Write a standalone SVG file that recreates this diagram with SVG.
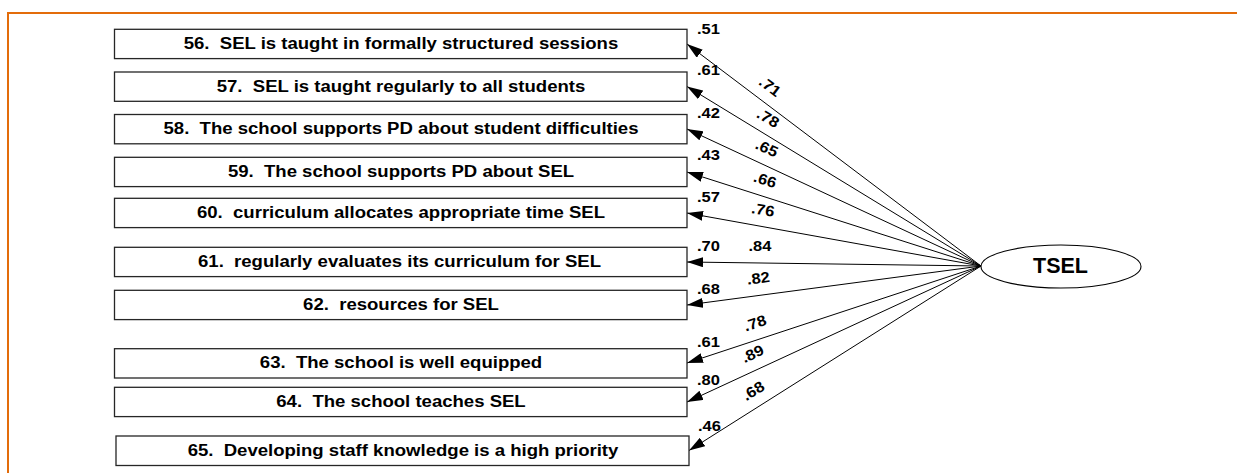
<svg xmlns="http://www.w3.org/2000/svg" width="1237" height="473" viewBox="0 0 1237 473">
  <style>
    .frame { fill: none; stroke: #E36C0A; stroke-width: 2; }
    .box { fill: #ffffff; stroke: #262626; stroke-width: 1.3; }
    .item { font-family: "Liberation Sans", Arial, sans-serif; font-weight: bold; font-size: 16px; fill: #000; text-anchor: middle; white-space: pre; }
    .lbl { font-family: "Liberation Sans", Arial, sans-serif; font-weight: bold; font-size: 15px; fill: #000; }
    .mid { text-anchor: middle; }
    .latent { fill: #ffffff; stroke: #000; stroke-width: 1.1; }
    .latent-text { font-family: "Liberation Sans", Arial, sans-serif; font-weight: bold; font-size: 21.5px; fill: #000; text-anchor: middle; }
    .path { fill: none; stroke: #000; stroke-width: 1; marker-end: url(#head); }
  </style>
  <defs>
    <marker id="head" viewBox="0 0 16 10" refX="16" refY="5" markerWidth="16" markerHeight="10" markerUnits="userSpaceOnUse" orient="auto">
      <path d="M0,0 L16,5 L0,10 Z" fill="#000"/>
    </marker>
  </defs>

  <rect width="1237" height="473" fill="#ffffff"/>
  <path class="frame" d="M8,473 V13 H1237"/>

  <!-- factor loadings: latent to indicators -->
  <g id="connectors">
    <line class="path" x1="981" y1="266" x2="687" y2="44"/>
    <line class="path" x1="981" y1="266" x2="687" y2="86.5"/>
    <line class="path" x1="981" y1="266" x2="687" y2="129"/>
    <line class="path" x1="981" y1="266" x2="687" y2="172"/>
    <line class="path" x1="981" y1="266" x2="687" y2="213"/>
    <line class="path" x1="981" y1="266" x2="687" y2="262"/>
    <line class="path" x1="981" y1="266" x2="687" y2="305"/>
    <line class="path" x1="981" y1="266" x2="687" y2="363"/>
    <line class="path" x1="981" y1="266" x2="687" y2="402"/>
    <line class="path" x1="981" y1="266" x2="689" y2="450.5"/>

    <text class="lbl mid" transform="translate(770,86.7) rotate(37) scale(1.1,1)" y="5">.71</text>
    <text class="lbl mid" transform="translate(768,118.3) rotate(31) scale(1.1,1)" y="5">.78</text>
    <text class="lbl mid" transform="translate(766.7,148.3) rotate(25) scale(1.1,1)" y="5">.65</text>
    <text class="lbl mid" transform="translate(765,180) rotate(17.8) scale(1.1,1)" y="5">.66</text>
    <text class="lbl mid" transform="translate(763,210) rotate(10) scale(1.1,1)" y="5">.76</text>
    <text class="lbl mid" transform="translate(760,246) scale(1.1,1)" y="5">.84</text>
    <text class="lbl mid" transform="translate(758.3,278.3) rotate(-7.6) scale(1.1,1)" y="5">.82</text>
    <text class="lbl mid" transform="translate(755,323.3) rotate(-18) scale(1.1,1)" y="5">.78</text>
    <text class="lbl mid" transform="translate(752.7,354) rotate(-24.7) scale(1.1,1)" y="5">.89</text>
    <text class="lbl mid" transform="translate(753.3,391) rotate(-32) scale(1.1,1)" y="5">.68</text>
  </g>

  <g id="item56">
    <rect class="box" x="114.5" y="29.3" width="572.5" height="29.3"/>
    <text class="item" transform="translate(401,48.8) scale(1.16,1)">56.  SEL is taught in formally structured sessions</text>
    <text class="lbl" transform="translate(697,33.5) scale(1.1,1)">.51</text>
  </g>
  <g id="item57">
    <rect class="box" x="114.5" y="72" width="572.5" height="29.3"/>
    <text class="item" transform="translate(401,91.5) scale(1.16,1)">57.  SEL is taught regularly to all students</text>
    <text class="lbl" transform="translate(697,75) scale(1.1,1)">.61</text>
  </g>
  <g id="item58">
    <rect class="box" x="114.5" y="114.5" width="572.5" height="29.3"/>
    <text class="item" transform="translate(401,134) scale(1.16,1)">58.  The school supports PD about student difficulties</text>
    <text class="lbl" transform="translate(697,118.3) scale(1.1,1)">.42</text>
  </g>
  <g id="item59">
    <rect class="box" x="114.5" y="157.3" width="572.5" height="29.3"/>
    <text class="item" transform="translate(401,176.8) scale(1.16,1)">59.  The school supports PD about SEL</text>
    <text class="lbl" transform="translate(697,160) scale(1.1,1)">.43</text>
  </g>
  <g id="item60">
    <rect class="box" x="114.5" y="198.3" width="572.5" height="29.3"/>
    <text class="item" transform="translate(401,217.8) scale(1.16,1)">60.  curriculum allocates appropriate time SEL</text>
    <text class="lbl" transform="translate(697,201.7) scale(1.1,1)">.57</text>
  </g>
  <g id="item61">
    <rect class="box" x="114.5" y="247.3" width="572.5" height="29.3"/>
    <text class="item" transform="translate(399.5,266.8) scale(1.16,1)">61.  regularly evaluates its curriculum for SEL</text>
    <text class="lbl" transform="translate(697,250.7) scale(1.1,1)">.70</text>
  </g>
  <g id="item62">
    <rect class="box" x="114.5" y="290.3" width="572.5" height="29.3"/>
    <text class="item" transform="translate(401,309.8) scale(1.16,1)">62.  resources for SEL</text>
    <text class="lbl" transform="translate(697,294) scale(1.1,1)">.68</text>
  </g>
  <g id="item63">
    <rect class="box" x="114.5" y="348.7" width="572.5" height="29.3"/>
    <text class="item" transform="translate(401,368.2) scale(1.16,1)">63.  The school is well equipped</text>
    <text class="lbl" transform="translate(697,347.3) scale(1.1,1)">.61</text>
  </g>
  <g id="item64">
    <rect class="box" x="114.5" y="387.3" width="572.5" height="29.3"/>
    <text class="item" transform="translate(401,406.8) scale(1.16,1)">64.  The school teaches SEL</text>
    <text class="lbl" transform="translate(697,385) scale(1.1,1)">.80</text>
  </g>
  <g id="item65">
    <rect class="box" x="116" y="436" width="573" height="29.5"/>
    <text class="item" transform="translate(403,455.6) scale(1.16,1)">65.  Developing staff knowledge is a high priority</text>
    <text class="lbl" transform="translate(698,430.7) scale(1.1,1)">.46</text>
  </g>

  <g id="TSEL">
    <ellipse class="latent" cx="1061" cy="266.5" rx="80" ry="21.5"/>
    <text class="latent-text" x="1060.5" y="273.3">TSEL</text>
  </g>
</svg>
